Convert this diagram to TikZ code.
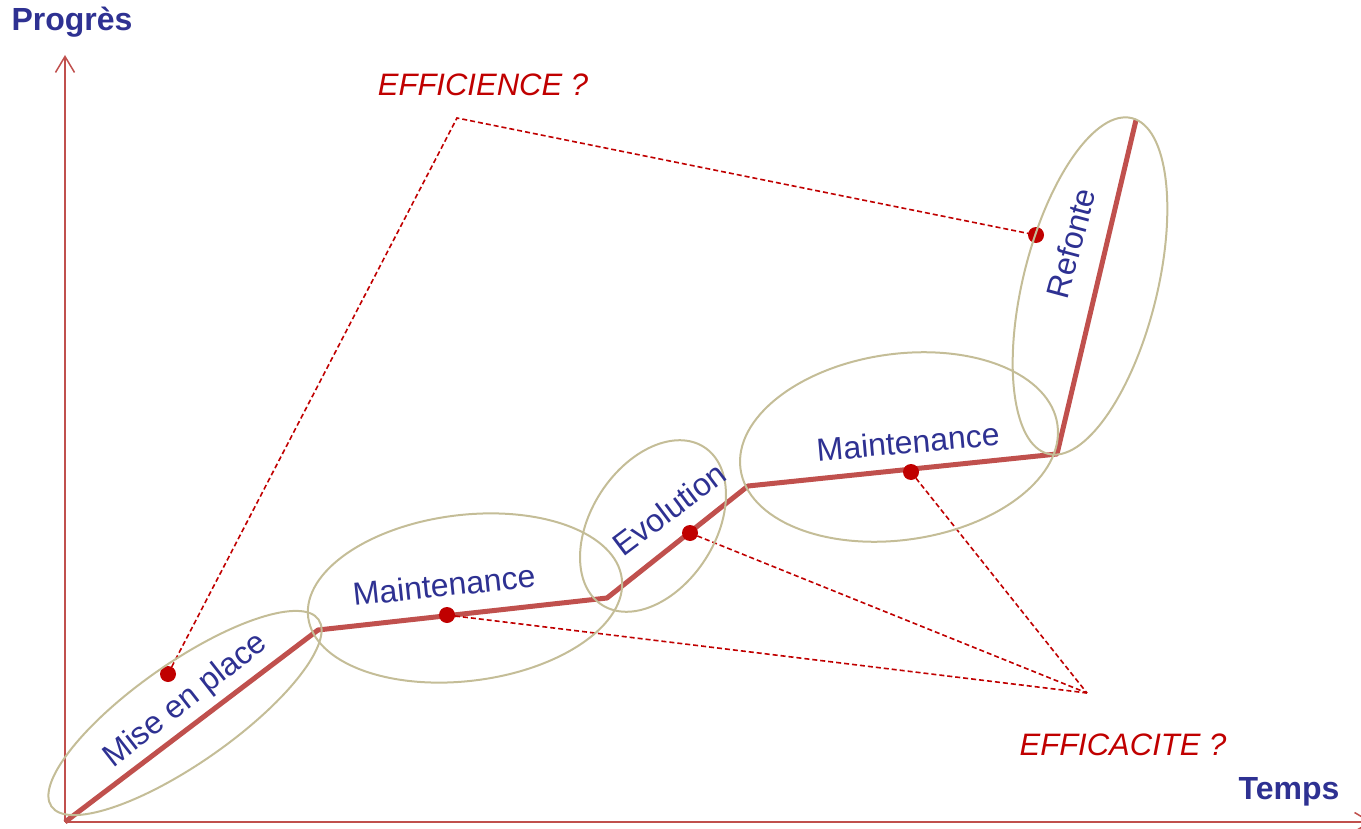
\documentclass[tikz,border=0pt]{standalone}
\usepackage{fontspec}
\setmainfont{Liberation Sans}
\usetikzlibrary{shapes.geometric,arrows.meta}
\definecolor{txtblue}{RGB}{46,49,146}
\definecolor{linered}{RGB}{192,80,77}
\definecolor{dotred}{RGB}{192,0,0}
\definecolor{elltan}{RGB}{196,189,151}
\begin{document}
\begin{tikzpicture}[x=0.5pt,y=-0.5pt,
  phase/.style={ellipse, draw=elltan, line width=1pt, inner sep=0pt, outer sep=0pt},
  lbl/.style={text=txtblue, font=\fontsize{16}{19}\selectfont, inner sep=0pt},
  axlbl/.style={text=txtblue, font=\bfseries\fontsize{16}{19}\selectfont, inner sep=0pt},
  qlbl/.style={text=dotred, font=\itshape\fontsize{15.5}{18}\selectfont, inner sep=0pt},
  axisline/.style={draw=linered, line width=0.75pt, -{Straight Barb[length=8pt,width=9.5pt,line width=0.75pt]}},
  curve/.style={draw=linered, line width=2.5pt, line join=round},
  dotmark/.style={circle, fill=dotred, minimum size=8pt, inner sep=0pt},
  guide/.style={draw=dotred, line width=0.8pt, dash pattern=on 2.5pt off 1.5pt}]
\useasboundingbox (0,0) rectangle (1361,829);
% axes
\coordinate (o) at (65,822);
\coordinate (ytip) at (65,55);
\coordinate (xtip) at (1372,822);
\draw[axisline] (o) -- (ytip);
\draw[axisline] (o) -- (xtip);
% progress curve
\coordinate (p1) at (318,630);
\coordinate (p2) at (607,598);
\coordinate (p3) at (748,486);
\coordinate (p4) at (1057,454);
\coordinate (p5) at (1136,120);
\draw[curve] (o) -- (p1) -- (p2) -- (p3) -- (p4) -- (p5);
% guides
\coordinate (top) at (457,118);
\coordinate (bot) at (1087,693);
\node[dotmark] (d1) at (168,674) {};
\node[dotmark] (d2) at (447,615) {};
\node[dotmark] (d3) at (690,533) {};
\node[dotmark] (d4) at (911,472) {};
\node[dotmark] (d5) at (1036,235) {};
\draw[guide] (d1.center) -- (top) -- (d5.center);
\draw[guide] (d2.center) -- (bot);
\draw[guide] (d3.center) -- (bot);
\draw[guide] (d4.center) -- (bot);
% ellipses
\node[phase, minimum width=163pt, minimum height=50pt, rotate=35] (e1) at (185,713) {};
\node[phase, minimum width=158pt, minimum height=83pt, rotate=7] (e2) at (465,598) {};
\node[phase, minimum width=94pt, minimum height=62pt, rotate=57] (e3) at (653,526) {};
\node[phase, minimum width=160pt, minimum height=93pt, rotate=8] (e4) at (899,447) {};
\node[phase, minimum width=173pt, minimum height=67pt, rotate=76] (e5) at (1090,286) {};
% labels
\node[axlbl] (prog) at (72,22) {Progrès};
\node[axlbl] (temps) at (1289,792) {Temps};
\node[qlbl] (effi) at (483,85) {EFFICIENCE ?};
\node[qlbl] (effa) at (1123,745) {EFFICACITE ?};
\node[lbl, rotate=38] (l1) at (186,701) {Mise en place};
\node[lbl, rotate=6] (l2) at (444,585) {Maintenance};
\node[lbl, rotate=37] (l3) at (669,509) {Evolution};
\node[lbl, rotate=5] (l4) at (908,442) {Maintenance};
\node[lbl, rotate=75] (l5) at (1071,243) {Refonte};
\end{tikzpicture}
\end{document}
